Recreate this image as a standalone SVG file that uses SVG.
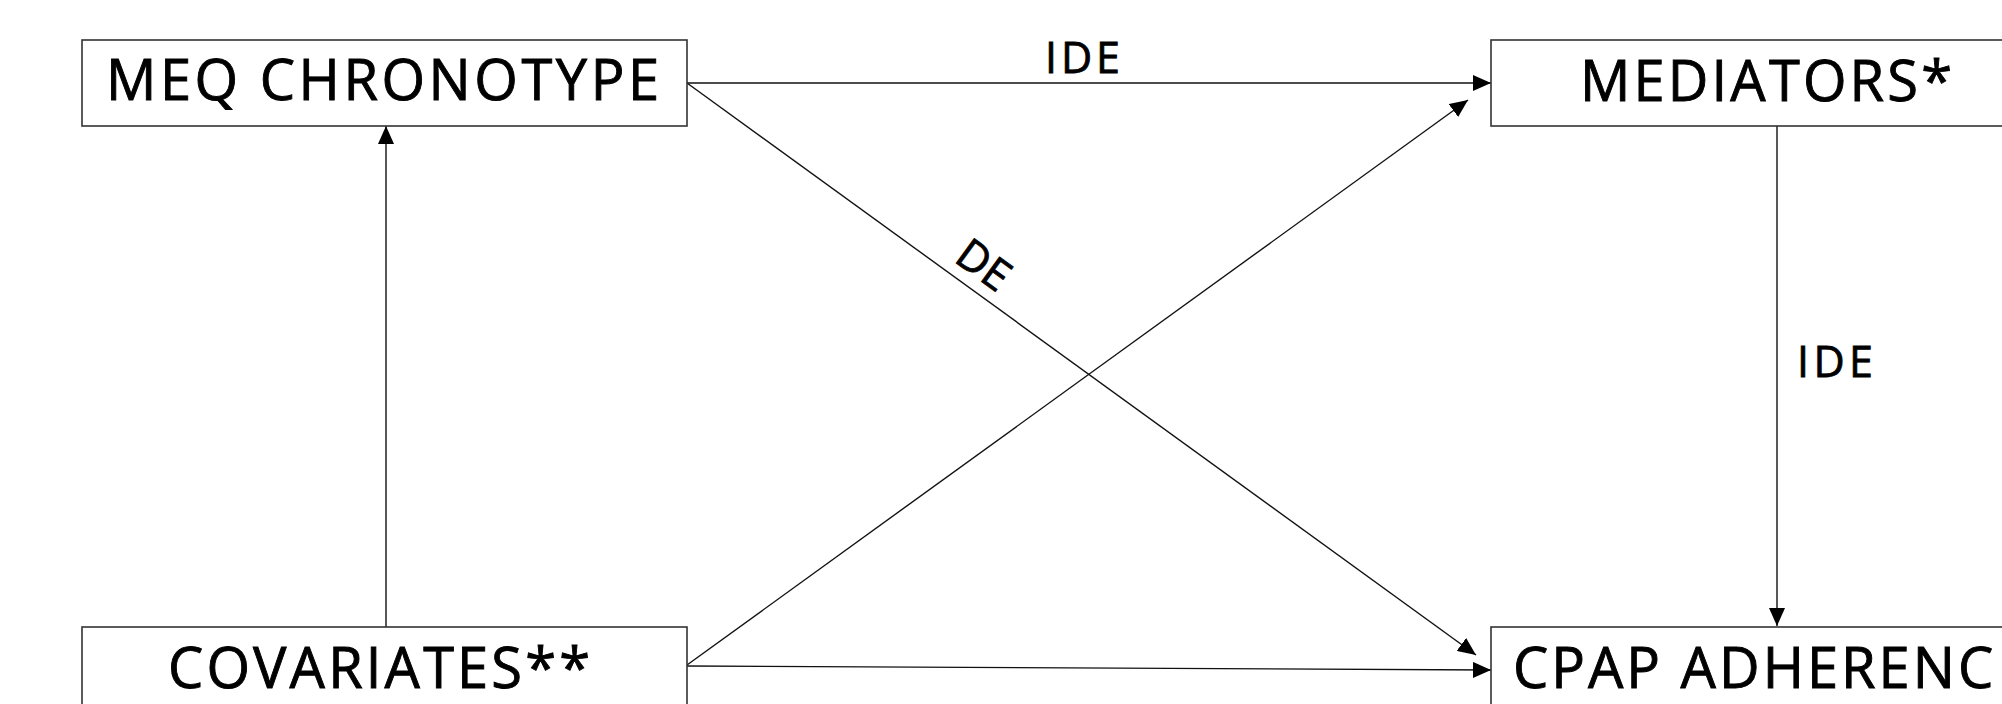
<svg xmlns="http://www.w3.org/2000/svg" width="2002" height="704" viewBox="0 0 2002 704">
<defs>
<style>
.box{fill:#fff;stroke:#333;stroke-width:1.6}
.lbl{font-family:"Open Sans","Noto Sans","Liberation Sans",sans-serif;font-size:56px;font-weight:400;fill:#000;stroke:#000;stroke-width:0.9}
.edge{font-family:"Open Sans","Noto Sans","Liberation Sans",sans-serif;font-size:43px;font-weight:400;fill:#000;stroke:#000;stroke-width:0.8}
.conn{stroke:#111;stroke-width:1.4;fill:none;marker-end:url(#arr)}
</style>
<marker id="arr" markerUnits="userSpaceOnUse" markerWidth="18" markerHeight="16" refX="18" refY="8" orient="auto">
<path d="M0,0 L18,8 L0,16 z" fill="#000"/>
</marker>
</defs>
<rect width="2002" height="704" fill="#fff"/>
<g id="connectors">
<line class="conn" x1="687" y1="83" x2="1491" y2="83"/>
<line class="conn" x1="687" y1="83" x2="1476" y2="655"/>
<line class="conn" x1="687" y1="665" x2="1468" y2="100"/>
<line class="conn" x1="687" y1="666" x2="1491" y2="670"/>
<line class="conn" x1="386" y1="627" x2="386" y2="126"/>
<line class="conn" x1="1777" y1="126" x2="1777" y2="626"/>
<text class="edge" x="1045" y="73" textLength="75" lengthAdjust="spacing">IDE</text>
<text class="edge" x="1797" y="377" textLength="76" lengthAdjust="spacing">IDE</text>
<text class="edge" x="975" y="277" text-anchor="middle" font-size="45" transform="rotate(36 975 277)">DE</text>
</g>
<g id="meq">
<rect class="box" x="82" y="40" width="605" height="86"/>
<text class="lbl" x="106" y="100" textLength="553" lengthAdjust="spacing">MEQ CHRONOTYPE</text>
</g>
<g id="mediators">
<rect class="box" x="1491" y="40" width="600" height="86"/>
<text class="lbl" x="1580" y="101" textLength="372" lengthAdjust="spacing">MEDIATORS*</text>
</g>
<g id="covariates">
<rect class="box" x="82" y="627" width="605" height="120"/>
<text class="lbl" x="168" y="688" textLength="422" lengthAdjust="spacing">COVARIATES**</text>
</g>
<g id="cpap">
<rect class="box" x="1491" y="627" width="600" height="120"/>
<text class="lbl" x="1513" y="688" letter-spacing="3">CPAP ADHERENC</text>
</g>
</svg>
